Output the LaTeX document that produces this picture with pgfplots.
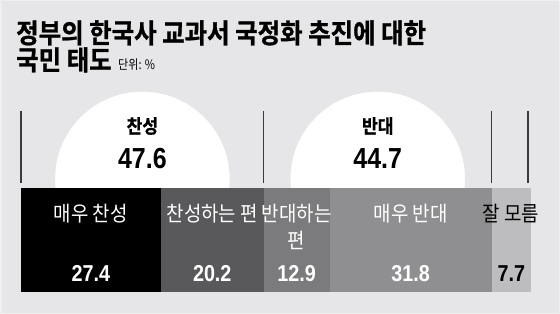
\documentclass[border=0pt]{standalone}
\usepackage{fontspec}
\usepackage{pgfplots}
\usepackage{pgfplotstable}
\pgfplotsset{compat=1.18}
\setmainfont{Noto Sans CJK KR}
\newfontfamily\krR{Noto Sans CJK KR}[FakeStretch=0.9]
\newfontfamily\krS{Noto Sans CJK KR}[FakeStretch=0.85]
\newfontfamily\krT{Noto Sans CJK KR Bold}[FakeStretch=0.905, FakeBold=1]
\newfontfamily\krB{Noto Sans CJK KR Bold}[FakeStretch=0.9, FakeBold=1]
\newfontfamily\numf{Liberation Sans}[FakeStretch=0.86]

\definecolor{bgc}{HTML}{E6E6E8}
\definecolor{edgec}{HTML}{EFEFEF}
\definecolor{c1}{HTML}{000000}
\definecolor{c2}{HTML}{59595B}
\definecolor{c3}{HTML}{7B7B7D}
\definecolor{c4}{HTML}{8F8F91}
\definecolor{c5}{HTML}{BDBDBF}
\definecolor{linec}{HTML}{3A3A3A}

\pgfplotstableread{
x y
23.8 0.587
69.95 0.587
}\circles

\pgfplotsset{base/.style={scale only axis, width=510bp, height=104bp,
  xmin=0, xmax=100, ymin=-0.5, ymax=0.5, hide axis, clip=false,
  xtick=\empty, ytick=\empty, at={(21bp,22bp)}, anchor=south west}}

\begin{document}
\begin{tikzpicture}
\fill[bgc] (0,0) rectangle (560bp,314bp);
\draw[edgec, line width=1.5bp] (0.75bp,0.75bp) rectangle (559.25bp,313.25bp);
\node[anchor=base west, inner sep=0pt] at (16bp,271bp) {\krT\fontsize{27bp}{30bp}\selectfont 정부의 한국사 교과서 국정화 추진에 대한};
\node[anchor=base west, inner sep=0pt] at (16bp,244bp) {\krT\fontsize{27bp}{30bp}\selectfont 국민 태도};
\node[anchor=base west, inner sep=0pt] at (118bp,244bp) {\krS\fontsize{13bp}{15bp}\selectfont 단위: \%};

% circles and bracket lines
\begin{axis}[base]
\addplot[white, only marks, mark=*, mark size=87bp, mark options={fill=white, draw=white}] table {\circles};
\addplot[linec, line width=1.3bp] coordinates {(0,0.548) (0,1.24)};
\addplot[linec, line width=1.3bp] coordinates {(47.6,0.548) (47.6,1.24)};
\addplot[linec, line width=1.3bp] coordinates {(92.3,0.548) (92.3,1.24)};
\addplot[linec, line width=1.3bp] coordinates {(99.4,0.548) (99.4,1.24)};
\end{axis}

% stacked bar
\begin{axis}[base, xbar stacked, bar width=104bp]
\addplot[fill=c1, draw=none] coordinates {(27.4,0)};
\addplot[fill=c2, draw=none] coordinates {(20.2,0)};
\addplot[fill=c3, draw=none] coordinates {(12.9,0)};
\addplot[fill=c4, draw=none] coordinates {(31.8,0)};
\addplot[fill=c5, draw=none] coordinates {(7.7,0)};
\end{axis}

% labels
\begin{axis}[base, nodes near coords, point meta=explicit symbolic,
  nodes near coords align={anchor=center},
  every node near coord/.append style={inner sep=0pt}]
\addplot[only marks, mark=*, mark size=0pt, mark options={draw=none, fill=none},
  every node near coord/.append style={text=white, font=\krR\fontsize{21bp}{23bp}\selectfont}]
  coordinates {(13.7,0.255) [매우 찬성] (37.5,0.255) [찬성하는 편] (54.05,0.255) [반대하는] (54.05,-0.005) [편] (76.4,0.255) [매우 반대]};
\addplot[only marks, mark=*, mark size=0pt, mark options={draw=none, fill=none},
  every node near coord/.append style={text=black, font=\krR\fontsize{21bp}{23bp}\selectfont}]
  coordinates {(96.0,0.255) [잘 모름]};
\addplot[only marks, mark=*, mark size=0pt, mark options={draw=none, fill=none},
  every node near coord/.append style={text=white, font=\numf\bfseries\fontsize{23bp}{25bp}\selectfont}]
  coordinates {(13.7,-0.322) [27.4] (37.5,-0.322) [20.2] (54.05,-0.322) [12.9] (76.4,-0.322) [31.8]};
\addplot[only marks, mark=*, mark size=0pt, mark options={draw=none, fill=none},
  every node near coord/.append style={text=black, font=\numf\bfseries\fontsize{23bp}{25bp}\selectfont}]
  coordinates {(96.15,-0.322) [7.7]};
\addplot[only marks, mark=*, mark size=0pt, mark options={draw=none, fill=none},
  every node near coord/.append style={text=black, font=\krB\fontsize{19bp}{21bp}\selectfont}]
  coordinates {(23.8,1.096) [찬성] (69.95,1.096) [반대]};
\addplot[only marks, mark=*, mark size=0pt, mark options={draw=none, fill=none},
  every node near coord/.append style={text=black, font=\numf\bfseries\fontsize{29bp}{31bp}\selectfont}]
  coordinates {(23.8,0.779) [47.6] (69.95,0.779) [44.7]};
\end{axis}
\end{tikzpicture}
\end{document}
